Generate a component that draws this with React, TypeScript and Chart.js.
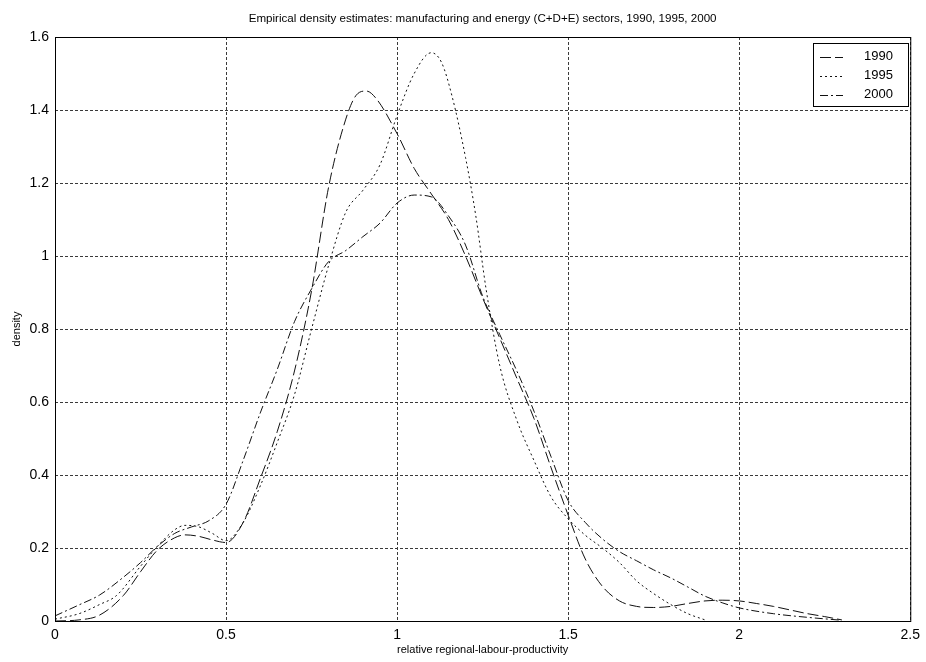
import React, { useEffect, useRef } from "react";
import { Chart, registerables } from "chart.js";

Chart.register(...registerables);

const FONT = '"Liberation Sans", Arial, Helvetica, sans-serif';

const TITLE = "Empirical density estimates: manufacturing and energy (C+D+E) sectors, 1990, 1995, 2000";
const X_LABEL = "relative regional-labour-productivity";
const Y_LABEL = "density";
const SERIES_LABELS = ["1990", "1995", "2000"];
const SERIES_DASH = [[11, 4], [2, 3], [8, 3, 2, 3]];

const X_TICKS = [0, 0.5, 1, 1.5, 2, 2.5];
const Y_TICKS = [0, 0.2, 0.4, 0.6, 0.8, 1, 1.2, 1.4, 1.6];

const x1990 = [0, 0.07, 0.13, 0.2, 0.25, 0.3, 0.35, 0.38, 0.42, 0.46, 0.5, 0.55, 0.6, 0.65, 0.7, 0.75, 0.8, 0.85, 0.88, 0.91, 0.94, 1.0, 1.05, 1.1, 1.15, 1.2, 1.25, 1.3, 1.35, 1.4, 1.45, 1.5, 1.55, 1.6, 1.65, 1.7, 1.75, 1.8, 1.85, 1.9, 1.95, 2.0, 2.05, 2.1, 2.15, 2.2, 2.25, 2.3];
const y1990 = [0, 0.003, 0.016, 0.07, 0.135, 0.195, 0.228, 0.236, 0.232, 0.222, 0.215, 0.27, 0.39, 0.52, 0.685, 0.905, 1.19, 1.375, 1.44, 1.452, 1.43, 1.335, 1.24, 1.17, 1.1, 1.0, 0.885, 0.775, 0.665, 0.555, 0.42, 0.29, 0.17, 0.095, 0.055, 0.04, 0.037, 0.04, 0.048, 0.055, 0.057, 0.055, 0.048, 0.04, 0.03, 0.02, 0.012, 0.003];

const x1995 = [0, 0.07, 0.13, 0.18, 0.25, 0.3, 0.35, 0.38, 0.42, 0.46, 0.5, 0.55, 0.6, 0.65, 0.7, 0.75, 0.8, 0.85, 0.9, 0.95, 1.0, 1.05, 1.1, 1.13, 1.16, 1.2, 1.23, 1.26, 1.3, 1.35, 1.4, 1.45, 1.5, 1.55, 1.6, 1.65, 1.7, 1.75, 1.8, 1.85, 1.9];
const y1995 = [0.005, 0.02, 0.045, 0.07, 0.15, 0.205, 0.25, 0.262, 0.258, 0.24, 0.22, 0.27, 0.37, 0.49, 0.62, 0.8, 0.975, 1.12, 1.18, 1.25, 1.385, 1.5, 1.557, 1.53, 1.44, 1.27, 1.11, 0.91, 0.7, 0.55, 0.44, 0.34, 0.28, 0.235, 0.2, 0.16, 0.11, 0.075, 0.045, 0.02, 0.003];

const x2000 = [0, 0.07, 0.13, 0.2, 0.25, 0.3, 0.35, 0.4, 0.45, 0.5, 0.55, 0.6, 0.65, 0.7, 0.75, 0.8, 0.85, 0.9, 0.95, 1.0, 1.05, 1.1, 1.15, 1.2, 1.25, 1.3, 1.35, 1.4, 1.45, 1.5, 1.55, 1.6, 1.65, 1.7, 1.75, 1.8, 1.85, 1.9, 1.95, 2.0, 2.1, 2.2, 2.3];
const y2000 = [0.014, 0.044, 0.071, 0.12, 0.16, 0.205, 0.24, 0.258, 0.275, 0.32, 0.44, 0.57, 0.69, 0.82, 0.91, 0.985, 1.015, 1.053, 1.09, 1.145, 1.167, 1.162, 1.11, 1.03, 0.89, 0.785, 0.685, 0.575, 0.45, 0.33, 0.27, 0.225, 0.19, 0.165, 0.14, 0.118, 0.093, 0.068, 0.05, 0.036, 0.02, 0.01, 0.002];

const SERIES_X = [x1990, x1995, x2000];
const SERIES_Y = [y1990, y1995, y2000];

const decorPlugin = {
  id: "decor",
  afterDraw(chart: any) {
    const { ctx, chartArea: a } = chart;
    ctx.save();
    ctx.setLineDash([]);
    ctx.strokeStyle = "#000";
    ctx.lineWidth = 1;
    ctx.strokeRect(a.left + 0.5, a.top + 0.5, a.right - a.left, a.bottom - a.top);

    ctx.fillStyle = "#000";
    ctx.textAlign = "center";
    ctx.textBaseline = "middle";
    const cx = (a.left + a.right) / 2;
    ctx.font = `11.6px ${FONT}`;
    ctx.fillText(TITLE, cx, 19);
    ctx.font = `11px ${FONT}`;
    ctx.fillText(X_LABEL, cx, 650);
    ctx.save();
    ctx.translate(17, (a.top + a.bottom) / 2);
    ctx.rotate(-Math.PI / 2);
    ctx.fillText(Y_LABEL, 0, 0);
    ctx.restore();

    // legend
    const bx = 813, by = 43, bw = 95, bh = 63;
    ctx.fillStyle = "#fff";
    ctx.fillRect(bx, by, bw, bh);
    ctx.strokeStyle = "#000";
    ctx.strokeRect(bx + 0.5, by + 0.5, bw, bh);
    chart.data.datasets.forEach((ds: any, i: number) => {
      const y = by + 13.5 + i * 19;
      ctx.beginPath();
      ctx.setLineDash(ds.borderDash || []);
      ctx.strokeStyle = ds.borderColor;
      ctx.lineWidth = 1;
      ctx.moveTo(820, Math.round(y) + 0.5);
      ctx.lineTo(843, Math.round(y) + 0.5);
      ctx.stroke();
      ctx.setLineDash([]);
      ctx.fillStyle = "#000";
      ctx.font = `13px ${FONT}`;
      ctx.textAlign = "left";
      ctx.fillText(ds.label, 864, y);
    });
    ctx.restore();
  },
};

export default function App() {
  const ref = useRef<HTMLCanvasElement | null>(null);

  useEffect(() => {
    if (!ref.current) return;
    const datasets = SERIES_LABELS.map((label, i) => ({
      label,
      data: SERIES_X[i].map((x, j) => ({ x, y: SERIES_Y[i][j] })),
      borderColor: "#111",
      borderWidth: 1,
      borderDash: SERIES_DASH[i],
      pointRadius: 0,
      fill: false,
      cubicInterpolationMode: "monotone" as const,
    }));

    const chart = new Chart(ref.current, {
      type: "line",
      data: { datasets },
      options: {
        animation: false,
        responsive: false,
        maintainAspectRatio: false,
        layout: { padding: { left: 0, top: 37, right: 14, bottom: 0 } },
        plugins: {
          legend: { display: false },
          tooltip: { enabled: false },
          title: { display: false },
        },
        scales: {
          x: {
            type: "linear",
            min: 0,
            max: 2.5,
            afterBuildTicks: (s: any) => {
              s.ticks = X_TICKS.map((v) => ({ value: v }));
            },
            afterFit: (s: any) => {
              s.height = 41;
            },
            ticks: {
              color: "#000",
              font: { family: FONT, size: 14 },
              padding: 6,
              maxRotation: 0,
              autoSkip: false,
              callback: (v: any) => String(v),
            },
            grid: { color: "#3a3a3a", lineWidth: 1, drawTicks: false },
            border: { display: false, dash: [3, 2] },
          },
          y: {
            type: "linear",
            min: 0,
            max: 1.6,
            afterBuildTicks: (s: any) => {
              s.ticks = Y_TICKS.map((v) => ({ value: v }));
            },
            afterFit: (s: any) => {
              s.width = 55;
            },
            ticks: {
              color: "#000",
              font: { family: FONT, size: 14 },
              padding: 6,
              autoSkip: false,
              callback: (v: any) => String(v),
            },
            grid: { color: "#3a3a3a", lineWidth: 1, drawTicks: false },
            border: { display: false, dash: [3, 2] },
          },
        },
      },
      plugins: [decorPlugin],
    });
    return () => chart.destroy();
  }, []);

  return (
    <div style={{ position: "fixed", left: 0, top: 0, width: 926, height: 662, background: "#fff" }}>
      <canvas ref={ref} width={926} height={662} style={{ width: 926, height: 662, display: "block" }} />
    </div>
  );
}
